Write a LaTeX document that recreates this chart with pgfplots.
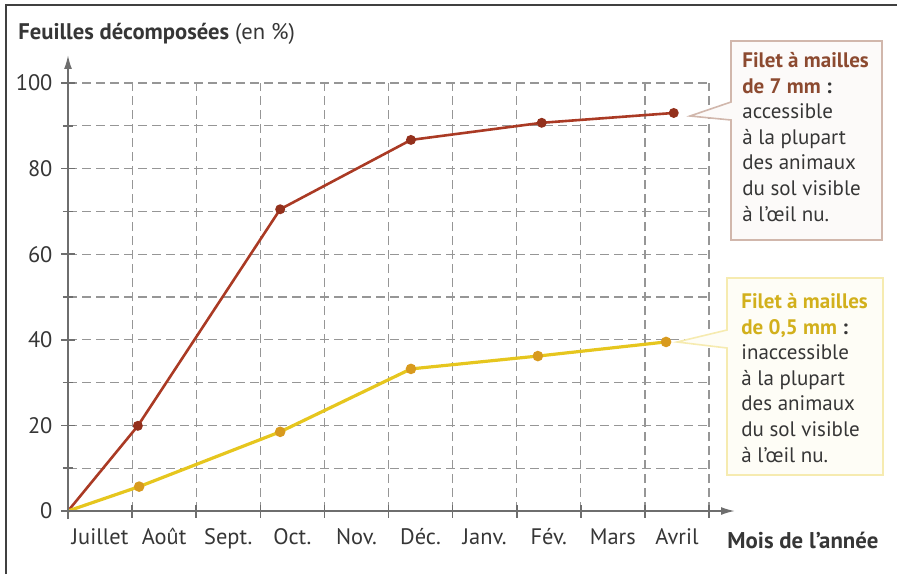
\documentclass[border=0pt]{standalone}
\usepackage{fontspec}
\setmainfont{PT Sans}
\usepackage{pgfplots}
\pgfplotsset{compat=1.18}
\usetikzlibrary{arrows.meta}

\definecolor{rouge}{HTML}{AA3A24}
\definecolor{rougefonce}{HTML}{93301C}
\definecolor{jaune}{HTML}{E6C61E}
\definecolor{jaunefonce}{HTML}{D89A1E}
\definecolor{brun}{HTML}{8C4A30}
\definecolor{moutarde}{HTML}{D2B01C}
\definecolor{texte}{HTML}{363636}
\definecolor{axe}{HTML}{6E6E6E}
\definecolor{grille}{HTML}{969696}

\begin{document}
\begin{tikzpicture}
\useasboundingbox (-34pt,-31.5pt) rectangle (417.5pt,255.5pt);
\draw[black!75, line width=0.7pt] (-31pt,-31.5pt) -- (-31pt,253pt) -- (414.5pt,253pt);

\begin{axis}[
    at={(0,0)}, anchor=south west,
    scale only axis, width=320.5pt, height=214pt,
    xmin=0, xmax=10, ymin=0, ymax=100,
    clip=false,
    axis x line*=bottom, axis y line*=left,
    axis line style={draw=none},
    xtick={0,...,10},
    xticklabels={Juillet,Août,Sept.,Oct.,Nov.,Déc.,Janv.,Fév.,Mars,Avril},
    x tick label as interval,
    ytick={0,20,...,100},
    minor ytick={10,30,...,90},
    tick align=center,
    major tick length=6.5pt, minor tick length=5pt,
    tick style={axe, line width=0.8pt},
    minor tick style={axe, line width=0.8pt},
    grid=both,
    major grid style={grille, line width=0.6pt, dash pattern=on 4.5pt off 2.5pt},
    minor grid style={grille, line width=0.6pt, dash pattern=on 4.5pt off 2.5pt},
    /pgf/number format/assume math mode=true,
    tick label style={font=\fontsize{11.2}{13}\selectfont, text=texte},
    xticklabel style={yshift=-2pt},
    yticklabel style={xshift=-1pt},
]
\addplot[rouge, line width=1.3pt, mark=*, mark size=1.8pt, mark indices={2,3,4,5,6},
    mark options={fill=rougefonce, draw=rougefonce}]
    coordinates {(0,0) (1.09,19.9) (3.31,70.5) (5.35,86.7) (7.39,90.7) (9.45,93.0)};
\addplot[jaune, line width=1.6pt, mark=*, mark size=1.8pt, mark indices={2,3,4,5,6},
    mark options={fill=jaunefonce, draw=jaunefonce}]
    coordinates {(0,0) (1.11,5.7) (3.31,18.5) (5.35,33.2) (7.33,36.2) (9.33,39.5)};
% axes avec flèches
\draw[axe, line width=0.9pt, -{Latex[length=7pt,width=4pt]}]
    ([xshift=-2.5pt]rel axis cs:0,0) -- ([xshift=13pt]rel axis cs:1,0);
\draw[axe, line width=0.9pt, -{Latex[length=7pt,width=4pt]}]
    ([yshift=-4pt]rel axis cs:0,0) -- ([yshift=14pt]rel axis cs:0,1);
\end{axis}

% titres des axes
\node[anchor=base west, inner sep=0pt, text=texte, font=\fontsize{11.3}{13}\selectfont]
    at (-25pt,235.5pt) {\textbf{Feuilles décomposées} (en \%)};
\node[anchor=base west, inner sep=0pt, text=texte, font=\fontsize{11.4}{13}\selectfont\bfseries]
    at (329.5pt,-18.5pt) {Mois de l’année};

% bulles
\filldraw[draw=brun!40, fill=brun!3, line width=0.8pt]
    (331.5pt,235pt) -- (407pt,235pt) -- (407pt,135.5pt) -- (331.5pt,135.5pt)
    -- (331.5pt,195.5pt) -- (311pt,197.5pt) -- (331.5pt,204.5pt) -- cycle;
\node[anchor=north west, inner sep=0pt, align=left, text=texte,
    font=\fontsize{10.5}{12.8}\selectfont] at (337pt,229.5pt)
    {\textbf{\color{brun}Filet à mailles}\\\textbf{\color{brun}de 7 mm}\textbf{ :}\\accessible\\à la plupart\\des animaux\\du sol visible\\à l’œil nu.};

\filldraw[draw=jaune!35, fill=jaune!4, line width=0.8pt]
    (329.5pt,116.5pt) -- (407.5pt,116.5pt) -- (407.5pt,18pt) -- (329.5pt,18pt)
    -- (329.5pt,81.5pt) -- (304.5pt,84.5pt) -- (329.5pt,90.5pt) -- cycle;
\node[anchor=north west, inner sep=0pt, align=left, text=texte,
    font=\fontsize{10.5}{12.8}\selectfont] at (336.5pt,109pt)
    {\textbf{\color{moutarde}Filet à mailles}\\\textbf{\color{moutarde}de 0,5 mm}\textbf{ :}\\inaccessible\\à la plupart\\des animaux\\du sol visible\\à l’œil nu.};
\end{tikzpicture}
\end{document}
